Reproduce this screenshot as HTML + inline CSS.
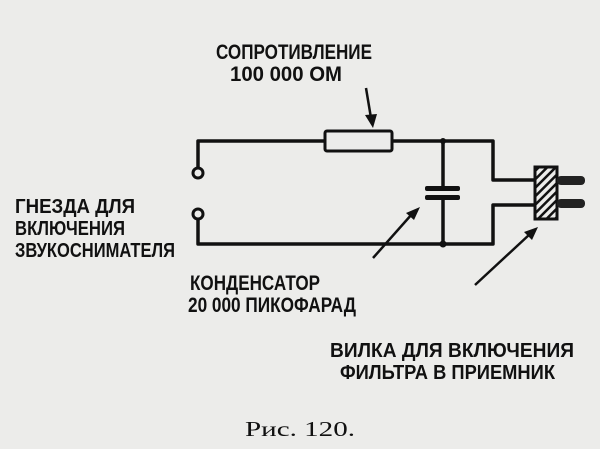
<!DOCTYPE html>
<html><head><meta charset="utf-8"><style>
html,body{margin:0;padding:0;background:#ececea;}
svg{display:block}
text{font-family:"Liberation Sans","DejaVu Sans",sans-serif;font-weight:bold;fill:#111;}
</style></head><body>
<svg width="600" height="449" viewBox="0 0 600 449" xmlns="http://www.w3.org/2000/svg">
<rect width="600" height="449" fill="#ececea"/>
<g stroke="#111" stroke-width="3.5" fill="none" stroke-linejoin="round">
<path d="M325 141 H198 V168"/>
<path d="M392 141 H493 V180 H535"/>
<path d="M198 219 V244 H493 V205 H535"/>
<path d="M443 141 V186"/>
<path d="M443 199 V244"/>
<circle cx="198" cy="173" r="5" stroke-width="3"/>
<circle cx="198" cy="214" r="5" stroke-width="3"/>
<rect x="325" y="131" width="67" height="20" rx="2" stroke-width="3"/>
</g>
<rect x="425" y="186" width="35" height="5" rx="2" fill="#111"/>
<rect x="425" y="195" width="35" height="5" rx="2" fill="#111"/>
<circle cx="443" cy="141" r="3" fill="#111"/>
<circle cx="443" cy="244" r="3.5" fill="#111"/>
<defs><pattern id="h" width="6" height="6" patternUnits="userSpaceOnUse" patternTransform="rotate(-45)"><rect width="6" height="6" fill="#ececea"/><rect width="6" height="2.5" fill="#111"/></pattern></defs>
<rect x="535" y="167" width="22" height="52" fill="url(#h)" stroke="#111" stroke-width="3"/>
<rect x="557" y="176" width="28" height="9" rx="4" fill="#222"/>
<rect x="557" y="199" width="28" height="9" rx="4" fill="#222"/>
<g stroke="#111" stroke-width="2.5" fill="#111">
<line x1="366" y1="88" x2="371" y2="118"/>
<polygon points="365,115 377,114 373,128" stroke="none"/>
<line x1="373" y1="258" x2="412" y2="214"/>
<polygon points="406,213 414,220 420,207" stroke="none"/>
<line x1="475" y1="285" x2="530" y2="234"/>
<polygon points="524,232 532,240 538,227" stroke="none"/>
</g>
<text x="216" y="59" font-size="21" textLength="156" lengthAdjust="spacingAndGlyphs">СОПРОТИВЛЕНИЕ</text>
<text x="230" y="81" font-size="21" textLength="112" lengthAdjust="spacingAndGlyphs">100 000 ОМ</text>
<text x="15" y="213" font-size="20" textLength="120" lengthAdjust="spacingAndGlyphs">ГНЕЗДА ДЛЯ</text>
<text x="15" y="235" font-size="20" textLength="110" lengthAdjust="spacingAndGlyphs">ВКЛЮЧЕНИЯ</text>
<text x="15" y="257" font-size="20" textLength="160" lengthAdjust="spacingAndGlyphs">ЗВУКОСНИМАТЕЛЯ</text>
<text x="190" y="290" font-size="21" textLength="130" lengthAdjust="spacingAndGlyphs">КОНДЕНСАТОР</text>
<text x="188" y="312" font-size="21" textLength="168" lengthAdjust="spacingAndGlyphs">20 000 ПИКОФАРАД</text>
<text x="330" y="357" font-size="20" textLength="244" lengthAdjust="spacingAndGlyphs">ВИЛКА ДЛЯ ВКЛЮЧЕНИЯ</text>
<text x="340" y="379" font-size="20" textLength="215" lengthAdjust="spacingAndGlyphs">ФИЛЬТРА В ПРИЕМНИК</text>
<text x="245" y="436" font-size="21" style="font-family:'Liberation Serif',serif;font-weight:normal" textLength="110" lengthAdjust="spacingAndGlyphs">Рис. 120.</text>
</svg>
</body></html>
